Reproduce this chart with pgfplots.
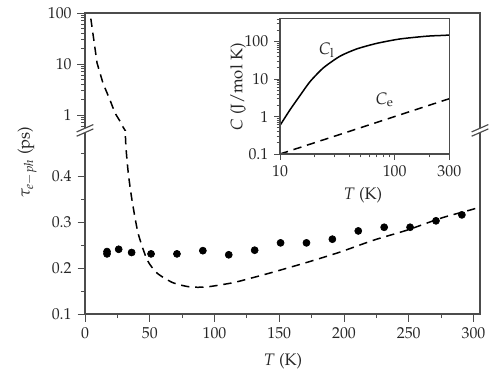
\documentclass[border=0pt]{standalone}
\usepackage[T1]{fontenc}
\usepackage{mathpazo}
\usepackage{pgfplots}
\usepackage{pgfplotstable}
\pgfplotsset{compat=1.18}

\pgfplotstableread{
T tau
3.0 146
3.9 100
9.3 10.5
13.9 4.2
19.3 1.97
23.2 1.09
27.0 0.76
29.4 0.58
31.0 0.50
31.7 0.46
33.5 0.405
36.3 0.348
41 0.276
48 0.218
55.7 0.189
68 0.168
81 0.159
94 0.159
114 0.168
128 0.178
145 0.191
172 0.213
197 0.235
223 0.261
249 0.283
275 0.309
298 0.327
305 0.333
}\theory

\pgfplotstableread{
T tau
17 0.236
17 0.231
26 0.241
36 0.234
51 0.231
71 0.231
91 0.238
111 0.229
131 0.239
151 0.255
171 0.255
191 0.263
211 0.281
231 0.289
251 0.289
271 0.303
291 0.316
}\meas

\pgfplotstableread{
T C
10 0.58
12.2 1.5
14.9 3.6
18.3 8.6
23.9 20
33.4 41
46.7 64
69.7 90
111 118
190 140
250 146
300 150
}\Cl

\pgfplotstableread{
T C
10 0.1
30 0.3
100 1.0
300 3.0
}\Ce

\definecolor{frame}{gray}{0.3}

\begin{document}
\begin{tikzpicture}
\useasboundingbox (0,0) rectangle (300pt,223.2pt);
\pgfplotsset{
  every axis/.append style={
    scale only axis,
    axis line style={draw=none},
    tick style={frame, line width=0.6pt},
    tick label style={font=\fontsize{9.5}{11}\selectfont, text=black!85},
  },
  dashedline/.style={black, line width=0.9pt, dash pattern=on 5pt off 3.5pt},
}
% lower main axis
\begin{axis}[
  at={(51pt,34.8pt)}, anchor=south west,
  width=237pt, height=110.16pt,
  xmin=0, xmax=305, ymin=0.1, ymax=0.5,
  xtick={0,50,100,150,200,250,300},
  minor xtick={25,75,125,175,225,275},
  ytick={0.1,0.2,0.3,0.4},
  yticklabels={0.1,0.2,0.3,0.4},
  minor ytick={0.15,0.25,0.35,0.45},
  xtick pos=left, ytick pos=left,
  tick align=outside,
  major tick length=4.5pt, minor tick length=2.5pt,
  after end axis/.code={
    \draw[frame, line width=0.7pt] (rel axis cs:0,1) -- (rel axis cs:0,0) -- (rel axis cs:1,0) -- (rel axis cs:1,1);
  },
]
\addplot[dashedline, smooth, tension=0.4, restrict y to domain=0:0.6] table[x=T, y=tau] {\theory};
\addplot[only marks, mark=*, mark size=2.1pt, black] table[x=T, y=tau] {\meas};
\end{axis}
% upper main axis (log)
\begin{axis}[
  at={(51pt,144.96pt)}, anchor=south west,
  width=237pt, height=70.44pt,
  xmin=0, xmax=305, ymode=log, ymin=0.5, ymax=100,
  xtick=\empty,
  ytick={1,10,100}, yticklabels={1,10,100},
  minor ytick={0.5,0.6,0.7,0.8,0.9,2,3,4,5,6,7,8,9,20,30,40,50,60,70,80,90},
  ytick pos=left, tick align=outside,
  major tick length=4.5pt, minor tick length=2.5pt,
  after end axis/.code={
    \draw[frame, line width=0.7pt] (rel axis cs:0,0) -- (rel axis cs:0,1) -- (rel axis cs:1,1) -- (rel axis cs:1,0);
  },
]
\addplot[dashedline] table[x=T, y=tau] {\theory};
\end{axis}
% axis breaks
\foreach \bx in {51pt,288pt}{
  \begin{scope}[shift={(\bx,144.96pt)}]
    \fill[white] (-5pt,-3.5pt) -- (5pt,0.9pt) -- (5pt,3.5pt) -- (-5pt,-0.9pt) -- cycle;
    \draw[frame, line width=0.7pt] (-5pt,-3.5pt) -- (5pt,0.9pt);
    \draw[frame, line width=0.7pt] (-5pt,-0.9pt) -- (5pt,3.5pt);
  \end{scope}
}
% main labels
\node[rotate=90, font=\fontsize{10}{12}\selectfont, text=black!85] at (16.2pt,126pt) {$\tau_{e-ph}$ (ps)};
\node[font=\fontsize{10}{12}\selectfont, text=black!85] at (169.8pt,6.6pt) {$T$ (K)};
% inset
\begin{axis}[
  at={(168pt,130.8pt)}, anchor=south west,
  width=101.6pt, height=81.4pt,
  xmode=log, ymode=log,
  xmin=10, xmax=300, ymin=0.1, ymax=420,
  axis background/.style={fill=white},
  xtick={10,100,300}, xticklabels={10,100,300},
  minor xtick={20,30,40,50,60,70,80,90,200},
  ytick={0.1,1,10,100}, yticklabels={0.1,1,10,100},
  minor ytick={0.2,0.3,0.4,0.5,0.6,0.7,0.8,0.9,2,3,4,5,6,7,8,9,20,30,40,50,60,70,80,90,200,300,400},
  xtick pos=left, ytick pos=left,
  tick align=outside,
  major tick length=3.5pt, minor tick length=2pt,
  after end axis/.code={
    \draw[frame, line width=0.7pt] (rel axis cs:0,0) rectangle (rel axis cs:1,1);
  },
]
\addplot[black, line width=0.9pt, smooth, tension=0.4] table[x=T, y=C] {\Cl};
\addplot[dashedline] table[x=T, y=C] {\Ce};
\node[font=\fontsize{10}{12}\selectfont, text=black!85] at (axis cs:25.6,60) {$C_{\mathrm{l}}$};
\node[font=\fontsize{10}{12}\selectfont, text=black!85] at (axis cs:82,2.8) {$C_{\mathrm{e}}$};
\end{axis}
\node[rotate=90, font=\fontsize{10}{12}\selectfont, text=black!85] at (142.8pt,171pt) {$C$ (J/mol K)};
\node[font=\fontsize{10}{12}\selectfont, text=black!85] at (217.8pt,106.2pt) {$T$ (K)};
\end{tikzpicture}
\end{document}
